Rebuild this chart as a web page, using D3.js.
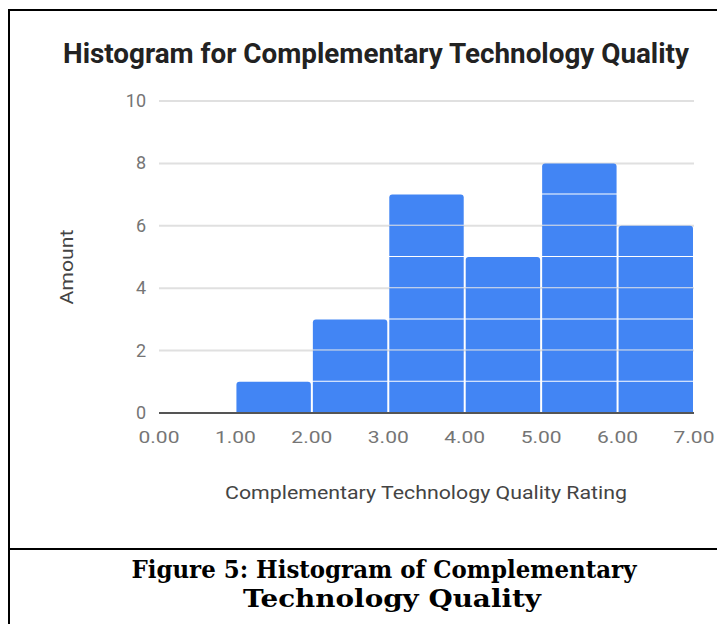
<!DOCTYPE html>
<meta charset="utf-8">
<script src="https://d3js.org/d3.v7.min.js"></script>
<style>
  body { margin: 0; background: #fff; }
</style>
<div id="chart"></div>
<script>

// histogram bins (lower edge) and counts per bin
var binStarts = [0, 1, 2, 3, 4, 5, 6];
var counts = [0, 1, 3, 7, 5, 8, 6];
var xTicks = [0, 1, 2, 3, 4, 5, 6, 7];
var yTicks = [0, 2, 4, 6, 8, 10];

var W = 717, H = 624;
var svg = d3.select("#chart").append("svg")
    .attr("width", W)
    .attr("height", H);

// frame around the figure
svg.append("path")
  .attr("d", "M9,624 V10 H717")
  .attr("fill", "none").attr("stroke", "#000").attr("stroke-width", 2);
svg.append("line")
  .attr("x1", 9).attr("x2", 717).attr("y1", 549).attr("y2", 549)
  .attr("stroke", "#000").attr("stroke-width", 2);

var x = d3.scaleLinear().domain([0, 7]).range([159, 694]);
var y = d3.scaleLinear().domain([0, 10]).range([413, 101]);

// gridlines
svg.append("g").selectAll("line")
  .data(yTicks.filter(function(d) { return d > 0; }))
  .enter().append("line")
    .attr("x1", x(0)).attr("x2", x(7))
    .attr("y1", function(d) { return y(d); })
    .attr("y2", function(d) { return y(d); })
    .attr("stroke", "#e0e0e0").attr("stroke-width", 2);

// y tick labels
svg.append("g").selectAll("text")
  .data(yTicks)
  .enter().append("text")
    .attr("x", 146)
    .attr("y", function(d) { return y(d) + 6; })
    .attr("text-anchor", "end")
    .style("font", "18px Roboto")
    .attr("fill", "#757575")
    .text(function(d) { return d; });

// bars built from unit blocks
var bins = binStarts.map(function(b, i) { return {x0: b, n: counts[i]}; });
var blocks = [];
bins.forEach(function(b) {
  for (var k = 0; k < b.n; k++) blocks.push({x0: b.x0, k: k, top: k === b.n - 1});
});

svg.append("g").selectAll("path")
  .data(blocks)
  .enter().append("path")
    .attr("fill", "#4285f4")
    .attr("d", function(d) {
      var x0 = x(d.x0) + 1, x1 = x(d.x0 + 1) - 1;
      var y0 = y(d.k) - (d.k === 0 ? 0 : 1), y1 = y(d.k + 1);
      var r = d.top ? 3 : 0;
      return "M" + x0 + "," + y0 +
        "V" + (y1 + r) +
        "Q" + x0 + "," + y1 + " " + (x0 + r) + "," + y1 +
        "H" + (x1 - r) +
        "Q" + x1 + "," + y1 + " " + x1 + "," + (y1 + r) +
        "V" + y0 + "Z";
    });

// baseline
svg.append("line")
  .attr("x1", x(0)).attr("x2", x(7))
  .attr("y1", y(0)).attr("y2", y(0))
  .attr("stroke", "#555").attr("stroke-width", 2);

// x tick labels
svg.append("g").selectAll("text")
  .data(xTicks)
  .enter().append("text")
    .attr("x", function(d) { return x(d); })
    .attr("y", 443)
    .attr("text-anchor", "middle")
    .attr("textLength", 41)
    .attr("lengthAdjust", "spacingAndGlyphs")
    .style("font", "17px Roboto")
    .attr("fill", "#757575")
    .text(function(d) { return d3.format(".2f")(d); });

// titles
svg.append("text")
  .attr("x", 376).attr("y", 63)
  .attr("text-anchor", "middle")
  .attr("textLength", 626)
  .attr("lengthAdjust", "spacingAndGlyphs")
  .style("font", "bold 27px Roboto")
  .attr("fill", "#222")
  .text("Histogram for Complementary Technology Quality");

svg.append("text")
  .attr("transform", "translate(73,267) rotate(-90)")
  .attr("text-anchor", "middle")
  .attr("textLength", 75)
  .attr("lengthAdjust", "spacingAndGlyphs")
  .style("font", "18px Roboto")
  .attr("fill", "#444")
  .text("Amount");

svg.append("text")
  .attr("x", 426).attr("y", 499)
  .attr("text-anchor", "middle")
  .attr("textLength", 402)
  .attr("lengthAdjust", "spacingAndGlyphs")
  .style("font", "18px Roboto")
  .attr("fill", "#444")
  .text("Complementary Technology Quality Rating");

// figure caption
var capLines = [
  {t: "Figure 5: Histogram of Complementary", cx: 384, y: 578, w: 505},
  {t: "Technology Quality", cx: 392, y: 607, w: 298}
];
svg.append("g").selectAll("text")
  .data(capLines)
  .enter().append("text")
    .attr("x", function(d) { return d.cx; })
    .attr("y", function(d) { return d.y; })
    .attr("text-anchor", "middle")
    .attr("textLength", function(d) { return d.w; })
    .attr("lengthAdjust", "spacingAndGlyphs")
    .style("font", "bold 24px 'DejaVu Serif'")
    .attr("fill", "#000")
    .text(function(d) { return d.t; });

</script>
